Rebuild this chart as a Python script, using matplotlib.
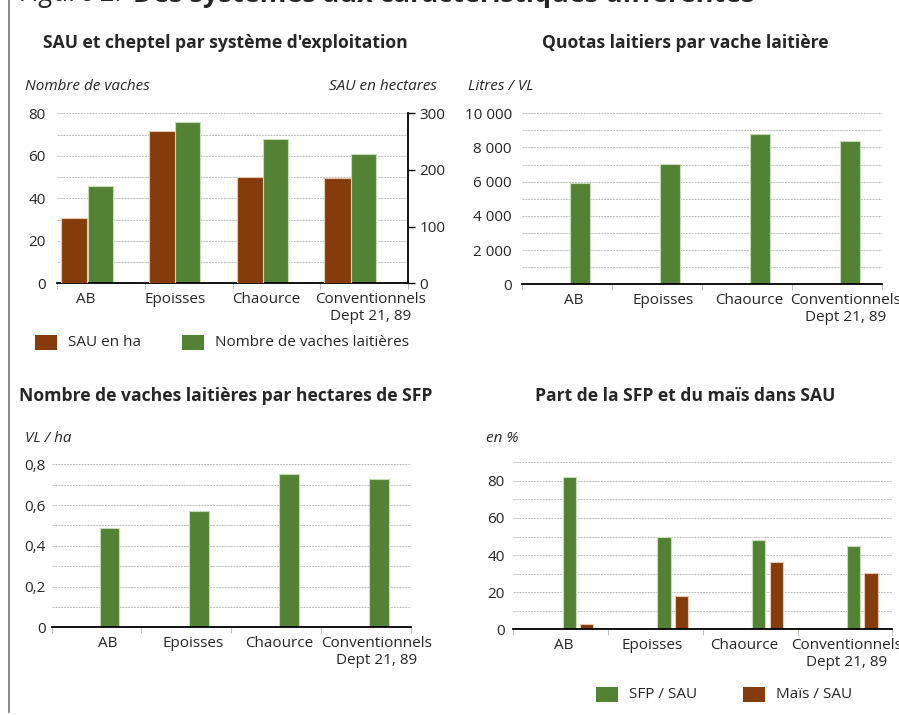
import matplotlib
matplotlib.use("Agg")
import matplotlib.pyplot as plt
from matplotlib.patches import Rectangle

plt.rcParams['font.family'] = ['Open Sans', 'DejaVu Sans']

W, H = 899, 715

categories = ["AB", "Epoisses", "Chaource", "Conventionnels\nDept 21, 89"]

# chart 1
sau_ha = [115, 268, 187, 186]
nb_vaches = [45.6, 75.8, 67.9, 60.7]
# chart 2
quota_litres = [5900, 7040, 8790, 8360]
# chart 3
vl_par_ha = [0.487, 0.569, 0.754, 0.730]
# chart 4
sfp_sau = [82.0, 50.0, 48.0, 44.8]
mais_sau = [3.1, 18.0, 36.3, 30.4]

BROWN = "#843C0C"
GREEN = "#548235"
TXT = "#262626"
GRID = "#BFBFBF"
FS = 11
TFS = 12.6


def rect(left, top, right, bottom):
    return [left / W, 1 - bottom / H, (right - left) / W, (bottom - top) / H]


def base_axes(fig, box, ymax, ystep, ygrid, ylabels, label_pos, ypad):
    ax = fig.add_axes(rect(*box))
    ax.set_xlim(0, 4)
    ax.set_ylim(0, ymax)
    for s in ["left", "right", "top"]:
        ax.spines[s].set_visible(False)
    ax.spines["bottom"].set_color("black")
    ax.spines["bottom"].set_linewidth(1.3)
    ax.set_axisbelow(True)
    # grid
    ax.set_yticks([i * ygrid for i in range(int(round(ymax / ygrid)) + 1)], minor=True)
    ticks = [i * ystep for i in range(len(ylabels))]
    ax.set_yticks(ticks, ylabels)
    ax.grid(axis="y", which="both", color=GRID, linestyle=(0, (2, 1)), linewidth=0.7)
    ax.tick_params(axis="y", which="both", length=0, pad=ypad, labelsize=FS, labelcolor=TXT)
    # category boundaries + labels
    ax.set_xticks(range(5), [""] * 5)
    ax.tick_params(axis="x", which="major", length=4, color=GRID, width=0.8)
    ax.set_xticks(label_pos, categories, minor=True)
    ax.tick_params(axis="x", which="minor", length=0, pad=6, labelsize=FS, labelcolor=TXT)
    return ax


def legend_item(fig, x, y, color, label):
    fig.patches.append(Rectangle((x / W, 1 - (y + 15) / H), 22 / W, 15 / H,
                                 transform=fig.transFigure, facecolor=color, edgecolor="none"))
    fig.text((x + 33) / W, 1 - (y + 7.5) / H, label, fontsize=FS, color=TXT, va="center")


fig = plt.figure(figsize=(W / 100, H / 100), dpi=100)

# cut off main title and left border
fig.text(20 / W, 1 - 1.5 / H, "Figure 2.", fontsize=19.5, style="italic", color=TXT, va="baseline")
fig.text(133 / W, 1 - 1.5 / H, "Des systèmes aux caractéristiques différentes", fontsize=19.5,
         fontweight="bold", color=TXT, va="baseline")
fig.add_artist(plt.Line2D([9 / W, 9 / W], [1 - 712 / H, 1], transform=fig.transFigure,
                          color="#7F7F7F", linewidth=1.3))

# ---- chart 1: SAU et cheptel
ax1 = base_axes(fig, (57, 113.3, 408.3, 283.3), 80, 20, 10,
                ["0", "20", "40", "60", "80"], [0.33, 1.34, 2.38, 3.57], 8)
x = range(4)
ax1.bar([i + 0.49 for i in x], nb_vaches, width=0.285, color=GREEN, edgecolor="#c5dcb5", linewidth=0.8)
ax1r = ax1.twinx()
ax1r.set_ylim(0, 300)
ax1r.bar([i + 0.195 for i in x], sau_ha, width=0.3, color=BROWN, edgecolor="#e8c8b0", linewidth=0.8)
for s in ["left", "top", "bottom"]:
    ax1r.spines[s].set_visible(False)
ax1r.spines["right"].set_color("black")
ax1r.spines["right"].set_linewidth(1.3)
ax1r.set_yticks([0, 100, 200, 300], ["0", "100", "200", "300"])
ax1r.tick_params(axis="y", length=5, width=1, pad=3, labelsize=FS, labelcolor=TXT)
fig.text(225 / W, 1 - 43 / H, "SAU et cheptel par système d'exploitation", fontsize=TFS,
         fontweight="bold", color=TXT, ha="center", va="center")
fig.text(25 / W, 1 - 87 / H, "Nombre de vaches", fontsize=FS, style="italic", color=TXT, va="center")
fig.text(437 / W, 1 - 87 / H, "SAU en hectares", fontsize=FS, style="italic", color=TXT,
         ha="right", va="center")
legend_item(fig, 35, 335, BROWN, "SAU en ha")
legend_item(fig, 182, 335, GREEN, "Nombre de vaches laitières")

# ---- chart 2: quotas
ax2 = base_axes(fig, (521.7, 113.3, 881.7, 284.3), 10000, 2000, 1000,
                ["0", "2 000", "4 000", "6 000", "8 000", "10 000"], [0.58, 1.566, 2.526, 3.60], 7)
ax2.bar([i + 0.645 for i in x], quota_litres, width=0.22, color=GREEN, edgecolor="#c5dcb5", linewidth=0.8)
fig.text(685 / W, 1 - 43 / H, "Quotas laitiers par vache laitière", fontsize=TFS,
         fontweight="bold", color=TXT, ha="center", va="center")
fig.text(468 / W, 1 - 87 / H, "Litres / VL", fontsize=FS, style="italic", color=TXT, va="center")

# ---- chart 3: VL / ha SFP
ax3 = base_axes(fig, (51.7, 464.3, 410.7, 627.3), 0.8, 0.2, 0.1,
                ["0", "0,2", "0,4", "0,6", "0,8"], [0.62, 1.58, 2.54, 3.62], 4.5)
ax3.bar([i + 0.643 for i in x], vl_par_ha, width=0.22, color=GREEN, edgecolor="#c5dcb5", linewidth=0.8)
fig.text(226 / W, 1 - 396 / H, "Nombre de vaches laitières par hectares de SFP", fontsize=TFS,
         fontweight="bold", color=TXT, ha="center", va="center")
fig.text(25 / W, 1 - 438 / H, "VL / ha", fontsize=FS, style="italic", color=TXT, va="center")

# ---- chart 4: part SFP et mais
ax4 = base_axes(fig, (513.3, 462.3, 892.3, 629.3), 90, 20, 10,
                ["0", "20", "40", "60", "80"], [0.535, 1.47, 2.44, 3.52], 6)
ax4.bar([i + 0.59 for i in x], sfp_sau, width=0.14, color=GREEN, edgecolor="#c5dcb5", linewidth=0.8)
ax4.bar([i + 0.775 for i in x], mais_sau, width=0.14, color=BROWN, edgecolor="#e8c8b0", linewidth=0.8)
fig.text(685 / W, 1 - 396 / H, "Part de la SFP et du maïs dans SAU", fontsize=TFS,
         fontweight="bold", color=TXT, ha="center", va="center")
fig.text(486 / W, 1 - 438 / H, "en %", fontsize=FS, style="italic", color=TXT, va="center")
legend_item(fig, 596, 687, GREEN, "SFP / SAU")
legend_item(fig, 743, 687, BROWN, "Maïs / SAU")

fig.savefig("out.png", dpi=100)
